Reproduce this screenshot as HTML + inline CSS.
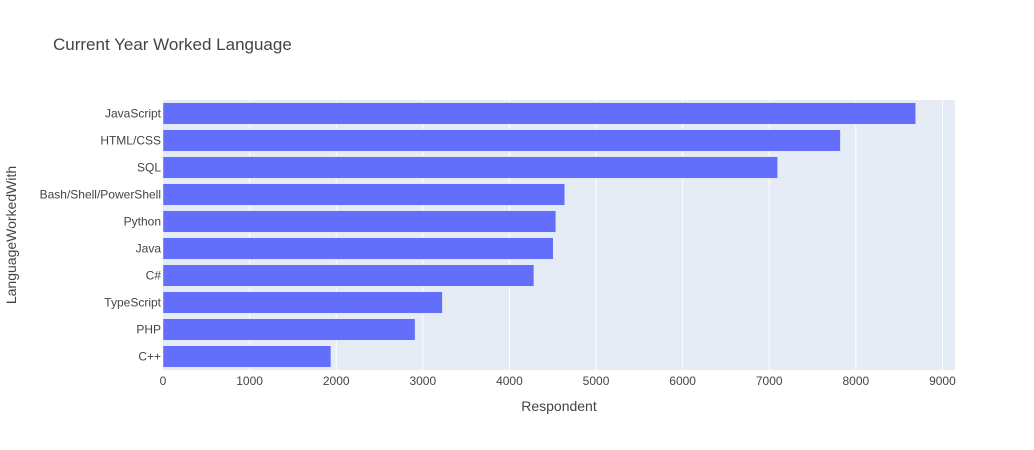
<!DOCTYPE html>
<html><head><meta charset="utf-8"><style>
body{margin:0;background:#fff;}
svg{display:block;font-family:"Liberation Sans",sans-serif;}
</style></head><body>
<svg id="chart" width="1034" height="450">
<text x="53" y="50" font-size="17" fill="#444">Current Year Worked Language</text>
<rect x="163" y="100" width="792" height="270" fill="#e5ecf6"/>
<g id="grid"></g><g id="bars"></g><g id="xticks"></g><g id="yticks"></g>
<text x="559" y="411" font-size="14" fill="#444" text-anchor="middle">Respondent</text>
<text transform="translate(16,235) rotate(-90)" font-size="14" fill="#444" text-anchor="middle">LanguageWorkedWith</text>
</svg>
<script>
const categories=["JavaScript","HTML/CSS","SQL","Bash/Shell/PowerShell","Python","Java","C#","TypeScript","PHP","C++"];
const values=[8691,7822,7097,4639,4536,4506,4283,3226,2911,1939];
const xTicks=[0,1000,2000,3000,4000,5000,6000,7000,8000,9000];
const NS="http://www.w3.org/2000/svg";
const x0=163,x1=955,y0=100,y1=370,xmax=9145;
const xs=v=>x0+v/xmax*(x1-x0);
const band=(y1-y0)/categories.length;
const ys=i=>y0+band*i;
function mk(t,a,p){const e=document.createElementNS(NS,t);for(const k in a)e.setAttribute(k,a[k]);document.getElementById(p).appendChild(e);return e;}
xTicks.forEach(t=>{
  if(t>0){const g=mk('line',{x1:xs(t),x2:xs(t),y1:y0,y2:y1,stroke:'#fff','stroke-width':1},'grid');
  
  }
  const l=mk('text',{x:xs(t),y:y1+15,'font-size':12,fill:'#444','text-anchor':'middle'},'xticks');
  l.textContent=t;
  
  
});
categories.forEach((c,i)=>{
  const b=mk('rect',{x:x0,y:ys(i)+band*0.1,width:xs(values[i])-x0,height:band*0.8,fill:'#636efa',stroke:'#e5ecf6','stroke-width':0.5},'bars');
  
  
  const l=mk('text',{x:x0-2,y:ys(i)+band/2+4,'font-size':12,fill:'#444','text-anchor':'end'},'yticks');
  l.textContent=c;
  
  
});
</script>
</body></html>
